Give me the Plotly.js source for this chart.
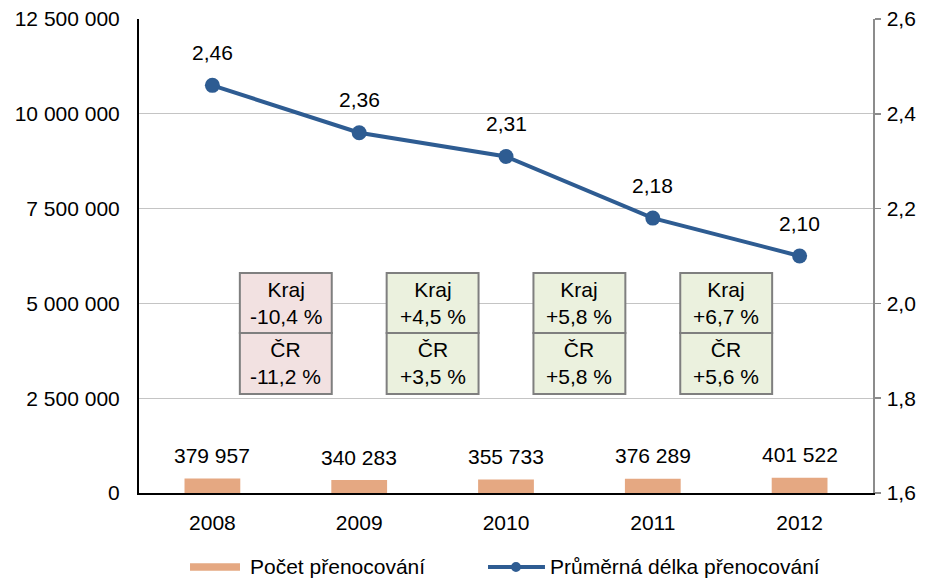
<!DOCTYPE html>
<html>
<head>
<meta charset="utf-8">
<script src="https://cdn.plot.ly/plotly-3.0.1.min.js"></script>
<style>html,body{margin:0;padding:0;background:#fff;}#chart{width:926px;height:580px;}</style>
</head>
<body>
<div id="chart"></div>
<script>
const years = ['2008', '2009', '2010', '2011', '2012'];
const stays = [379957, 340283, 355733, 376289, 401522];
const avgLength = [2.46, 2.36, 2.31, 2.18, 2.10];
const krajChange = [-10.4, 4.5, 5.8, 6.7];
const crChange = [-11.2, 3.5, 5.8, 5.6];
const seriesNames = ['Počet přenocování', 'Průměrná délka přenocování'];

const FONT = 'Liberation Sans, Arial, sans-serif';
const FS = 21;
const barColor = '#E5A882';
const lineColor = '#2E5C92';

function fmtPct(v) {
  const s = Math.abs(v).toFixed(1).replace('.', ',');
  return (v < 0 ? '-' : '+') + s + ' %';
}

const traces = [
  {
    type: 'bar', x: years, y: stays, name: seriesNames[0],
    marker: {color: barColor}, width: 0.38, yaxis: 'y', hoverinfo: 'skip'
  },
  {
    type: 'scatter', mode: 'lines+markers', x: years, y: avgLength, name: seriesNames[1],
    line: {color: lineColor, width: 4}, marker: {color: lineColor, size: 15},
    yaxis: 'y2', hoverinfo: 'skip'
  }
];

const annotations = [];
const shapes = [];
const tf = {family: FONT, size: FS, color: '#000'};

stays.forEach((v, i) => {
  annotations.push({
    x: i, y: v, xref: 'x', yref: 'y', showarrow: false,
    text: v.toLocaleString('en-US').replace(/,/g, ' '),
    yshift: 23, yanchor: 'middle', font: tf
  });
});
avgLength.forEach((v, i) => {
  annotations.push({
    x: i, y: v, xref: 'x', yref: 'y2', showarrow: false,
    text: v.toFixed(2).replace('.', ','),
    yshift: 33, yanchor: 'middle', font: tf
  });
});

// change boxes between categories
const boxTop = 0.4641, boxMid = 0.3376, boxBot = 0.2089, halfW = 0.313;
krajChange.forEach((k, i) => {
  const cx = i + 0.5;
  const fill = k < 0 ? '#F2E1E1' : '#EBF1DE';
  [[boxMid, boxTop], [boxBot, boxMid]].forEach(([y0, y1]) => {
    shapes.push({
      type: 'rect', xref: 'x', yref: 'paper', x0: cx - halfW, x1: cx + halfW, y0: y0, y1: y1,
      fillcolor: fill, line: {color: '#7F7F7F', width: 2}, layer: 'above'
    });
  });
  annotations.push({
    x: cx, y: (boxMid + boxTop) / 2, xref: 'x', yref: 'paper', showarrow: false,
    text: 'Kraj<br>' + fmtPct(k), yanchor: 'middle', font: tf
  });
  annotations.push({
    x: cx, y: (boxBot + boxMid) / 2, xref: 'x', yref: 'paper', showarrow: false,
    text: 'ČR<br>' + fmtPct(crChange[i]), yanchor: 'middle', font: tf
  });
});

// custom legend
const legY = -0.156;
shapes.push({type: 'rect', xref: 'paper', yref: 'paper', x0: 0.0695, x1: 0.1376,
  y0: legY - 0.008, y1: legY + 0.008, fillcolor: barColor, line: {width: 0}});
shapes.push({type: 'line', xref: 'paper', yref: 'paper', x0: 0.4755, x1: 0.5531,
  y0: legY, y1: legY, line: {color: lineColor, width: 4}});
shapes.push({type: 'circle', xref: 'paper', yref: 'paper',
  x0: 0.5136 - 0.0068, x1: 0.5136 + 0.0068, y0: legY - 0.0105, y1: legY + 0.0105,
  fillcolor: lineColor, line: {width: 0}});
annotations.push({x: 0.1485, y: legY, xref: 'paper', yref: 'paper', showarrow: false,
  xanchor: 'left', yanchor: 'middle', text: seriesNames[0], font: tf});
annotations.push({x: 0.557, y: legY, xref: 'paper', yref: 'paper', showarrow: false,
  xanchor: 'left', yanchor: 'middle', text: seriesNames[1], font: tf});

const layout = {
  width: 926, height: 580,
  margin: {l: 139, r: 53, t: 19, b: 87},
  paper_bgcolor: '#fff', plot_bgcolor: '#fff',
  separators: ', ',
  showlegend: false,
  font: tf,
  xaxis: {
    type: 'category', showgrid: false, showline: true, linecolor: '#000', linewidth: 2,
    ticks: '', ticklabelstandoff: 10, tickfont: tf,
    range: [-0.5, 4.5], fixedrange: true
  },
  yaxis: {
    range: [0, 12500000], dtick: 2500000, tickformat: ',d',
    showgrid: true, gridcolor: '#C4C4C4', gridwidth: 1, zeroline: false,
    showline: true, linecolor: '#000', linewidth: 2, ticks: '',
    ticklabelstandoff: 13, tickfont: tf
  },
  yaxis2: {
    range: [1.6, 2.6], dtick: 0.2, tickformat: '.1f', overlaying: 'y', side: 'right',
    showgrid: false, zeroline: false, showline: true, linecolor: '#8C8C8C', linewidth: 1.5,
    ticks: 'outside', ticklen: 6, tickcolor: '#8C8C8C', tickwidth: 1.5,
    ticklabelstandoff: 2, tickfont: tf
  },
  shapes: shapes,
  annotations: annotations
};

Plotly.newPlot('chart', traces, layout, {staticPlot: true, displayModeBar: false});
</script>
</body>
</html>
